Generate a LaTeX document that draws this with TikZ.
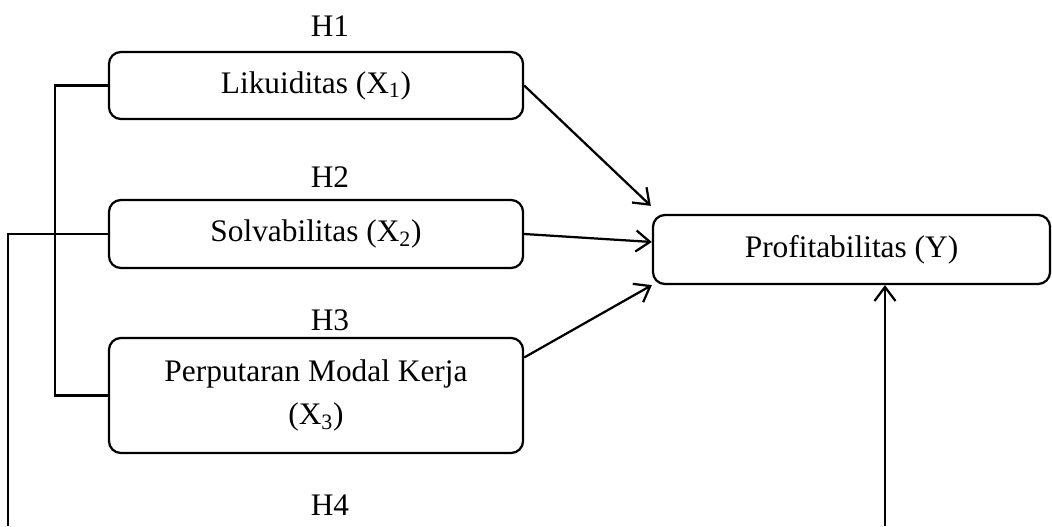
\documentclass[tikz,border=0pt]{standalone}
\usepackage{fontspec}
\setmainfont{Liberation Serif}
\usetikzlibrary{arrows.meta}
\begin{document}
\begin{tikzpicture}[x=0.025cm,y=-0.025cm, line width=1.6pt,
    varbox/.style={draw, rounded corners=0.3cm, minimum width=10.35cm, align=center,
      font=\fontsize{22.3}{31}\selectfont},
    hyp/.style={font=\fontsize{22.3}{31}\selectfont},
    >={Straight Barb[length=10pt,width=15pt]}]
    \useasboundingbox (0,0) rectangle (1052,526);
    \node[varbox, minimum height=1.675cm] (lik) at (316,85.5) {Likuiditas (X\textsubscript{1})};
    \node[varbox, minimum height=1.7cm] (sol) at (316,234) {Solvabilitas (X\textsubscript{2})};
    \node[varbox, minimum height=2.875cm] (per) at (316,395.5) {Perputaran Modal Kerja\\(X\textsubscript{3})};
    \node[varbox, minimum width=9.925cm, minimum height=1.725cm] (prof) at (851.5,249.5) {Profitabilitas (Y)};
    \node[hyp] (h1) at (330,26) {H1};
    \node[hyp] (h2) at (330,177) {H2};
    \node[hyp] (h3) at (330,320) {H3};
    \node[hyp] (h4) at (330,505) {H4};
    \coordinate (solend) at (8,526);
    \coordinate (modin) at (885,526);
    \draw (lik.west) -- ++(-53,0) |- (per.west);
    \draw (sol.west) -| (solend);
    \draw[->] (lik.east) -- ([shift={(-1,-8)}]prof.north west);
    \draw[->] (sol.east) -- ([shift={(0,-7.5)}]prof.west);
    \draw[->] ([shift={(0,-38)}]per.east) -- (prof.south west);
    \draw[->] (modin) -- (modin |- prof.south);
\end{tikzpicture}
\end{document}
